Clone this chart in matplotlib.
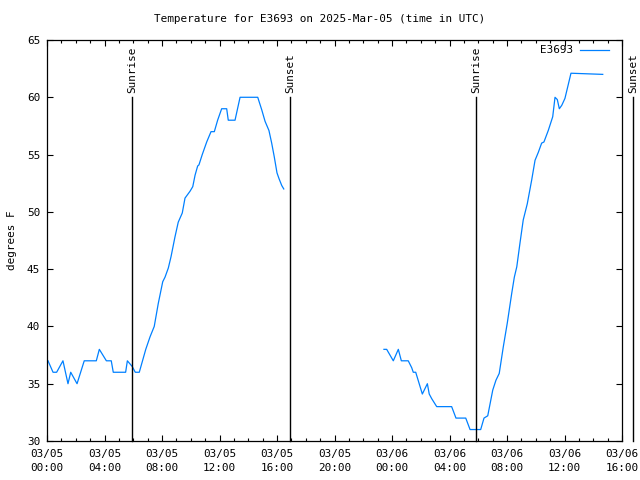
import matplotlib
matplotlib.use("Agg")
import matplotlib.pyplot as plt
import matplotlib.dates as mdates
from datetime import datetime, timedelta
import numpy as np

# ---- data (hours since 2025-03-05 00:00 UTC, temperature in F) ----
hours_day1 = [0.07, 0.42, 0.67, 1.11, 1.46, 1.65, 2.09, 2.59, 3.43, 3.64, 4.13, 4.47,
              4.61, 5.47, 5.59, 5.93, 6.14, 6.42, 6.87, 7.17, 7.46, 7.74, 8.05, 8.21,
              8.44, 8.63, 8.90, 9.13, 9.41, 9.60, 9.95, 10.14, 10.30, 10.48, 10.57,
              10.80, 11.11, 11.41, 11.64, 11.87, 12.15, 12.50, 12.61, 13.08, 13.43,
              14.66, 14.94, 15.17, 15.44, 15.63, 15.81, 16.00, 16.14, 16.33, 16.47]
temps_day1 = [37, 36, 36, 37, 35, 36, 35, 37, 37, 38, 37, 37,
              36, 36, 37, 36.5, 36, 36, 38, 39.1, 40, 42, 43.9, 44.3,
              45.1, 46.1, 47.8, 49.1, 49.9, 51.2, 51.8, 52.2, 53.2, 54.0, 54.1,
              55, 56.1, 57, 57, 58, 59, 59, 58, 58, 60,
              60, 58.9, 57.9, 57.1, 56, 54.8, 53.4, 52.9, 52.3, 52.0]

hours_day2 = [23.44, 23.63, 24.09, 24.44, 24.65, 25.13, 25.37, 25.48, 25.65, 26.11,
              26.46, 26.59, 26.76, 27.11, 28.15, 28.45, 29.13, 29.43, 30.17, 30.40,
              30.66, 31.01, 31.23, 31.46, 31.74, 32.02, 32.33, 32.51, 32.68, 32.90,
              33.13, 33.41, 33.72, 33.95, 34.18, 34.41, 34.57, 34.87, 35.18, 35.34,
              35.50, 35.64, 35.81, 36.03, 36.26, 36.45, 38.66]
temps_day2 = [38, 38, 37, 38, 37, 37, 36.4, 36, 36, 34.1,
              35, 34.1, 33.7, 33, 33, 32, 32, 31, 31, 32,
              32.2, 34.45, 35.3, 35.9, 38.2, 40.3, 42.9, 44.3, 45.2, 47.25,
              49.3, 50.7, 52.8, 54.5, 55.2, 56.0, 56.1, 57.1, 58.3, 60.0,
              59.8, 59.0, 59.3, 59.9, 61.1, 62.1, 62]

sun_hours = [5.91, 16.90, 29.84, 40.77]
sun_labels = ["Sunrise", "Sunset", "Sunrise", "Sunset"]

series_name = "E3693"
title = "Temperature for E3693 on 2025-Mar-05 (time in UTC)"
ylabel = "degrees F"

base = datetime(2025, 3, 5)
def to_dt(h):
    return base + timedelta(hours=h)

# ---- plotting ----
font = "DejaVu Sans Mono"
fs = 7.9
plt.rcParams['font.family'] = font
plt.rcParams['font.size'] = fs

fig = plt.figure(figsize=(6.4, 4.8), dpi=100)
ax = fig.add_axes([47/640, 39/480, 575/640, 401/480])

x_all = [to_dt(h) for h in hours_day1] + [to_dt((hours_day1[-1] + hours_day2[0]) / 2)] + [to_dt(h) for h in hours_day2]
y_all = temps_day1 + [np.nan] + temps_day2
ax.plot(x_all, y_all, color='#0080ff', lw=0.9, label=series_name)

for h, lab in zip(sun_hours, sun_labels):
    ax.plot([to_dt(h), to_dt(h)], [30, 60], color='black', lw=1.0, clip_on=False)
    ax.text(to_dt(h), 60.4, lab, rotation=90, ha='center', va='bottom',
            fontsize=fs, clip_on=False)

ax.set_xlim(to_dt(0), to_dt(40))
ax.set_ylim(30, 65)
ax.set_yticks(range(30, 66, 5))
ax.xaxis.set_major_locator(mdates.HourLocator(byhour=range(0, 24, 4)))
ax.xaxis.set_minor_locator(mdates.HourLocator())
ax.xaxis.set_major_formatter(mdates.DateFormatter('%m/%d\n%H:%M'))

ax.tick_params(axis='both', which='major', direction='in', length=4, width=0.8,
               top=True, right=True, labelsize=fs)
ax.tick_params(axis='x', which='major', pad=6)
ax.tick_params(axis='y', which='major', pad=5)
ax.tick_params(axis='x', which='minor', direction='in', length=2, width=0.8, top=True)
for s in ax.spines.values():
    s.set_linewidth(0.9)

for lbl in ax.get_xticklabels():
    lbl.set_linespacing(1.45)

ax.set_ylabel(ylabel, fontsize=fs, labelpad=7)
fig.text(0.5, 1 - 19/480, title, ha='center', va='center', fontsize=fs)

ax.legend(loc='upper right', bbox_to_anchor=(1 - 11.2/575, 1 - 3.2/401),
          frameon=False, markerfirst=False, handlelength=2.6,
          handletextpad=0.6, borderaxespad=0, borderpad=0.2, fontsize=fs)

fig.savefig("out.png", dpi=100)
